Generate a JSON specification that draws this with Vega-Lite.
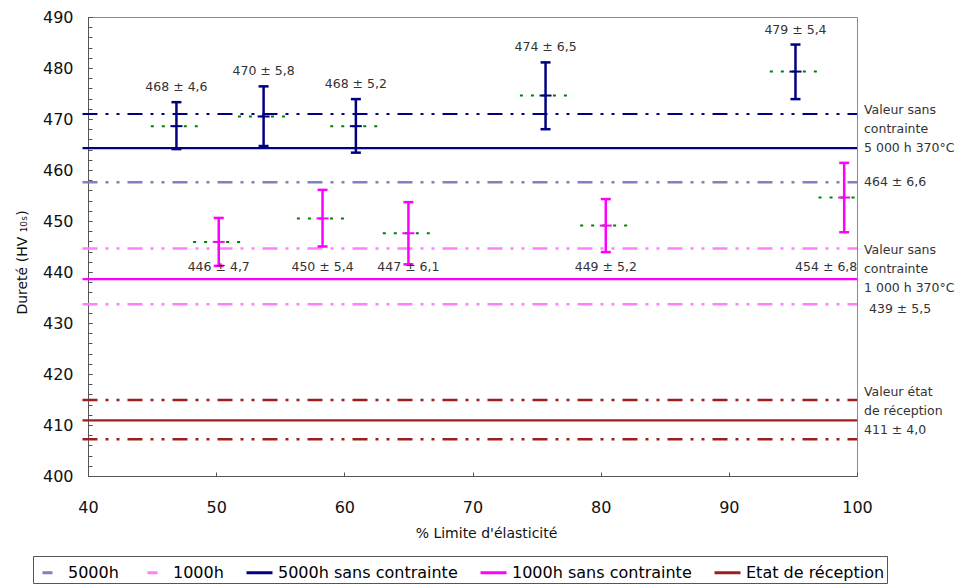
{
  "$schema": "https://vega.github.io/schema/vega-lite/v6.json",
  "width": 769,
  "height": 459,
  "autosize": {"type": "none"},
  "padding": {"left": 88, "top": 17, "right": 100, "bottom": 108},
  "background": "white",
  "config": {
    "font": "DejaVu Sans",
    "view": {"stroke": "#8a8a8a", "strokeWidth": 1},
    "axis": {"grid": false, "domainColor": "#555555", "tickColor": "#555555", "labelColor": "#111111", "titleColor": "#111111", "titleFontWeight": "normal", "labelFont": "DejaVu Sans", "titleFont": "DejaVu Sans"}
  },
  "resolve": {"axis": {"y": "independent"}},
  "datasets": {
    "lignes": [
      {"serie": "5000h", "borne": "haut", "y": 471.0},
      {"serie": "5000h", "borne": "bas", "y": 457.6},
      {"serie": "5000h sans contrainte", "borne": "moyenne", "y": 464.3},
      {"serie": "1000h", "borne": "haut", "y": 444.6},
      {"serie": "1000h", "borne": "bas", "y": 433.7},
      {"serie": "1000h sans contrainte", "borne": "moyenne", "y": 438.6},
      {"serie": "Etat de réception", "borne": "haut", "y": 414.9},
      {"serie": "Etat de réception", "borne": "moyenne", "y": 410.9},
      {"serie": "Etat de réception", "borne": "bas", "y": 407.2}
    ],
    "points": [
      {"serie": "5000h", "x": 46.9, "y": 468.6, "lo": 464.1, "hi": 473.3, "xlo": 44.9, "xhi": 48.9, "label": "468 ± 4,6"},
      {"serie": "5000h", "x": 53.7, "y": 470.5, "lo": 464.7, "hi": 476.4, "xlo": 51.7, "xhi": 55.7, "label": "470 ± 5,8"},
      {"serie": "5000h", "x": 60.9, "y": 468.6, "lo": 463.4, "hi": 473.9, "xlo": 58.9, "xhi": 62.9, "label": "468 ± 5,2"},
      {"serie": "5000h", "x": 75.7, "y": 474.6, "lo": 468.0, "hi": 481.1, "xlo": 73.7, "xhi": 77.7, "label": "474 ± 6,5"},
      {"serie": "5000h", "x": 95.2, "y": 479.3, "lo": 473.9, "hi": 484.6, "xlo": 93.2, "xhi": 97.2, "label": "479 ± 5,4"},
      {"serie": "1000h", "x": 50.2, "y": 445.9, "lo": 441.2, "hi": 450.6, "xlo": 48.2, "xhi": 52.2, "label": "446 ± 4,7"},
      {"serie": "1000h", "x": 58.3, "y": 450.5, "lo": 445.0, "hi": 456.1, "xlo": 56.3, "xhi": 60.3, "label": "450 ± 5,4"},
      {"serie": "1000h", "x": 65.0, "y": 447.6, "lo": 441.5, "hi": 453.7, "xlo": 63.0, "xhi": 67.0, "label": "447 ± 6,1"},
      {"serie": "1000h", "x": 80.4, "y": 449.1, "lo": 443.9, "hi": 454.3, "xlo": 78.4, "xhi": 82.4, "label": "449 ± 5,2"},
      {"serie": "1000h", "x": 99.0, "y": 454.6, "lo": 447.8, "hi": 461.4, "xlo": 97.0, "xhi": 101.0, "label": "454 ± 6,8"}
    ]
  },
  "layer": [
    {
      "data": {"name": "lignes"},
      "transform": [{"filter": "datum.borne !== 'moyenne' && !(datum.serie === '5000h' && datum.borne === 'haut')"}],
      "mark": {"type": "rule", "strokeWidth": 2.5, "strokeDash": [15, 8, 3, 8, 3, 8], "clip": false},
      "encoding": {
        "x": {"datum": 39.57, "type": "quantitative", "scale": {"domain": [40, 100], "nice": false, "zero": false},
          "axis": {"title": "% Limite d'élasticité", "values": [40, 50, 60, 70, 80, 90, 100], "labelFontSize": 16, "titleFontSize": 14, "tickSize": -4, "labelPadding": 27, "titleX": 398, "titleY": 57, "titleBaseline": "middle", "labelFlush": false}},
        "x2": {"datum": 100},
        "y": {"field": "y", "type": "quantitative", "scale": {"domain": [400, 490], "nice": false, "zero": false},
          "axis": {"orient": "left", "title": "Dureté (HV ₁₀ₛ)", "values": [400, 410, 420, 430, 440, 450, 460, 470, 480, 490],
            "labelOverlap": false, "labelFontSize": 16, "titleFontSize": 14, "tickSize": -4, "labelPadding": 19, "titleX": -66, "titleY": 245, "titleBaseline": "middle", "titleAngle": -90}},
        "color": {"field": "serie", "type": "nominal",
          "scale": {"domain": ["5000h", "1000h", "5000h sans contrainte", "1000h sans contrainte", "Etat de réception"], "range": ["#8080c0", "#ff80ff", "#000080", "#ff00ff", "#9e1e1e"]},
          "legend": {"title": null, "orient": "none", "legendX": -55, "legendY": 539, "direction": "horizontal", "columns": 5, "symbolType": "stroke", "symbolSize": 676, "symbolStrokeWidth": 3, "labelFont": "DejaVu Sans", "labelFontSize": 16, "labelColor": "#000000", "labelLimit": 300, "labelOffset": 4, "columnPadding": 16, "strokeColor": "#555555", "fillColor": "#ffffff", "padding": 2,
            "values": ["5000h", "1000h", "5000h sans contrainte", "1000h sans contrainte", "Etat de réception"],
            "encode": {"symbols": {"update": {"strokeDash": {"signal": "datum.value === '5000h' || datum.value === '1000h' ? [0, 6, 10, 100] : [100, 0]"}}}}}
        }
      }
    },
    {
      "data": {"name": "lignes"},
      "transform": [{"filter": "datum.serie === '5000h' && datum.borne === 'haut'"}],
      "mark": {"type": "rule", "strokeWidth": 2, "strokeDash": [15, 8, 3, 8, 3, 8], "color": "#000080", "clip": false},
      "encoding": {
        "x": {"datum": 39.57, "type": "quantitative"},
        "x2": {"datum": 100},
        "y": {"field": "y", "type": "quantitative",
          "axis": {"orient": "left", "title": null, "labels": false, "domain": false, "tickSize": -4, "values": [400,402,404,406,408,410,412,414,416,418,420,422,424,426,428,430,432,434,436,438,440,442,444,446,448,450,452,454,456,458,460,462,464,466,468,470,472,474,476,478,480,482,484,486,488,490]}}
      }
    },
    {
      "data": {"name": "lignes"},
      "transform": [{"filter": "datum.borne === 'moyenne'"}],
      "mark": {"type": "rule", "strokeWidth": 2.2, "clip": false},
      "encoding": {
        "x": {"datum": 39.57, "type": "quantitative"},
        "x2": {"datum": 100},
        "y": {"field": "y", "type": "quantitative", "axis": null},
        "color": {"field": "serie", "type": "nominal"}
      }
    },
    {
      "data": {"name": "points"},
      "mark": {"type": "rule", "strokeWidth": 2, "strokeDash": [3, 8], "color": "#008000", "clip": true},
      "encoding": {
        "x": {"field": "xlo", "type": "quantitative"},
        "x2": {"field": "xhi"},
        "y": {"field": "y", "type": "quantitative", "axis": null}
      }
    },
    {
      "data": {"name": "points"},
      "mark": {"type": "rule", "strokeWidth": 2.5},
      "encoding": {
        "x": {"field": "x", "type": "quantitative"},
        "y": {"field": "lo", "type": "quantitative", "axis": null},
        "y2": {"field": "hi"},
        "stroke": {"field": "serie", "type": "nominal", "scale": {"domain": ["5000h", "1000h"], "range": ["#000080", "#ff00ff"]}, "legend": null}
      }
    },
    {
      "data": {"name": "points"},
      "mark": {"type": "point", "shape": "stroke", "size": 100, "strokeWidth": 2.5, "filled": false, "opacity": 1},
      "encoding": {
        "x": {"field": "x", "type": "quantitative"},
        "y": {"field": "lo", "type": "quantitative", "axis": null},
        "stroke": {"field": "serie", "type": "nominal", "legend": null}
      }
    },
    {
      "data": {"name": "points"},
      "mark": {"type": "point", "shape": "stroke", "size": 100, "strokeWidth": 2.5, "filled": false, "opacity": 1},
      "encoding": {
        "x": {"field": "x", "type": "quantitative"},
        "y": {"field": "hi", "type": "quantitative", "axis": null},
        "stroke": {"field": "serie", "type": "nominal", "legend": null}
      }
    },
    {
      "data": {"name": "points"},
      "mark": {"type": "point", "shape": "stroke", "size": 144, "strokeWidth": 2, "filled": false, "opacity": 1},
      "encoding": {
        "x": {"field": "x", "type": "quantitative"},
        "y": {"field": "y", "type": "quantitative", "axis": null},
        "stroke": {"field": "serie", "type": "nominal", "legend": null}
      }
    },
    {
      "data": {"name": "points"},
      "transform": [{"filter": "datum.serie === '5000h'"}],
      "mark": {"type": "text", "fontSize": 12.5, "color": "#333333", "baseline": "middle", "dy": -15},
      "encoding": {
        "x": {"field": "x", "type": "quantitative"},
        "y": {"field": "hi", "type": "quantitative", "axis": null},
        "text": {"field": "label"}
      }
    },
    {
      "data": {"name": "points"},
      "transform": [{"filter": "datum.serie === '1000h' && datum.x < 99"}],
      "mark": {"type": "text", "fontSize": 12.5, "color": "#333333", "baseline": "middle"},
      "encoding": {
        "x": {"field": "x", "type": "quantitative"},
        "y": {"datum": 441, "axis": null},
        "text": {"field": "label"}
      }
    },
    {
      "data": {"name": "points"},
      "transform": [{"filter": "datum.serie === '1000h' && datum.x >= 99"}],
      "mark": {"type": "text", "fontSize": 12.5, "color": "#333333", "baseline": "middle", "dx": -18},
      "encoding": {
        "x": {"field": "x", "type": "quantitative"},
        "y": {"datum": 441, "axis": null},
        "text": {"field": "label"}
      }
    },
    {
      "data": {"values": [{}]},
      "mark": {"type": "text", "fontSize": 12.5, "color": "#333333", "align": "left", "baseline": "middle", "lineHeight": 19, "dx": 7, "dy": -38, "clip": false,
        "text": ["Valeur sans", "contrainte", "5 000 h 370°C"]},
      "encoding": {"x": {"datum": 100}, "y": {"datum": 464.3, "axis": null}}
    },
    {
      "data": {"values": [{}]},
      "mark": {"type": "text", "fontSize": 12.5, "color": "#333333", "align": "left", "baseline": "middle", "dx": 7, "clip": false, "text": "464 ± 6,6"},
      "encoding": {"x": {"datum": 100}, "y": {"datum": 457.6, "axis": null}}
    },
    {
      "data": {"values": [{}]},
      "mark": {"type": "text", "fontSize": 12.5, "color": "#333333", "align": "left", "baseline": "middle", "lineHeight": 19, "dx": 7, "dy": -29, "clip": false,
        "text": ["Valeur sans", "contrainte", "1 000 h 370°C"]},
      "encoding": {"x": {"datum": 100}, "y": {"datum": 438.6, "axis": null}}
    },
    {
      "data": {"values": [{}]},
      "mark": {"type": "text", "fontSize": 12.5, "color": "#333333", "align": "left", "baseline": "middle", "dx": 12, "dy": 5, "clip": false, "text": "439 ± 5,5"},
      "encoding": {"x": {"datum": 100}, "y": {"datum": 433.7, "axis": null}}
    },
    {
      "data": {"values": [{}]},
      "mark": {"type": "text", "fontSize": 12.5, "color": "#333333", "align": "left", "baseline": "middle", "lineHeight": 19, "dx": 7, "dy": -28, "clip": false,
        "text": ["Valeur état", "de réception", "411 ± 4,0"]},
      "encoding": {"x": {"datum": 100}, "y": {"datum": 410.9, "axis": null}}
    }
  ]
}
